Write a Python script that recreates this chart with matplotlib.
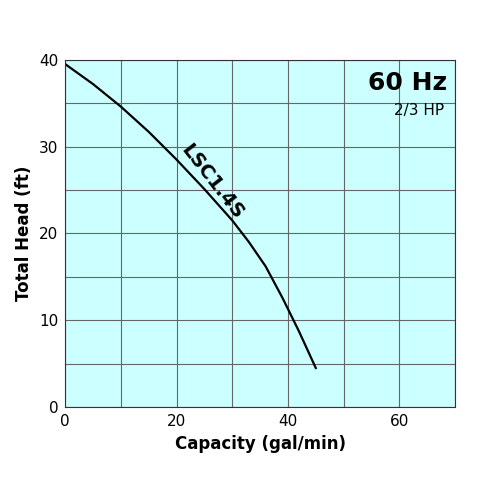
import matplotlib
matplotlib.use("Agg")
import matplotlib.pyplot as plt
from matplotlib.ticker import MultipleLocator

flow = [0, 5, 10, 15, 20, 25, 30, 33, 36, 39, 42, 45]
head = [39.5, 37.2, 34.6, 31.7, 28.5, 25.1, 21.5, 19.0, 16.2, 12.6, 8.7, 4.5]

fig = plt.figure(figsize=(4.94, 4.94), dpi=100)
ax = fig.add_axes([0.132, 0.176, 0.789, 0.703])
ax.set_facecolor("#ccffff")
ax.set_xlim(0, 70)
ax.set_ylim(0, 40)
ax.xaxis.set_major_locator(MultipleLocator(20))
ax.xaxis.set_minor_locator(MultipleLocator(10))
ax.yaxis.set_major_locator(MultipleLocator(10))
ax.yaxis.set_minor_locator(MultipleLocator(5))
ax.grid(which="both", color="#666666", lw=0.8)
ax.set_axisbelow(True)
ax.tick_params(which="both", length=0, labelsize=11, pad=5)
for s in ax.spines.values():
    s.set_color("#333333")
ax.plot(flow, head, color="black", lw=1.6)
ax.set_xlabel("Capacity (gal/min)", fontsize=12, fontweight="bold")
ax.set_ylabel("Total Head (ft)", fontsize=12, fontweight="bold")
ax.text(26.3, 25.9, "LSC1.4S", rotation=-52, ha="center", va="center",
        fontsize=14, fontweight="bold")
ax.text(61.5, 37.3, "60 Hz", ha="center", va="center", fontsize=18, fontweight="bold")
ax.text(63.5, 34.2, "2/3 HP", ha="center", va="center", fontsize=11)
fig.savefig("out.png", dpi=100)
